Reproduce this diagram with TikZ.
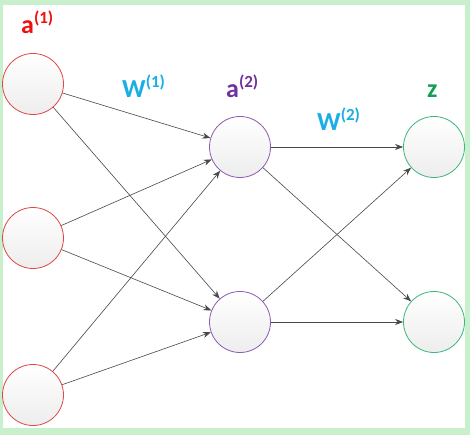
\documentclass[tikz,border=0pt]{standalone}
\usepackage{fontspec}
\setmainfont{Carlito}
\usetikzlibrary{arrows.meta}
\definecolor{frameg}{HTML}{C8F0CC}
\definecolor{inred}{HTML}{E04848}
\definecolor{hidpur}{HTML}{8E5BB8}
\definecolor{outgrn}{HTML}{3DB87A}
\definecolor{txtred}{HTML}{F01010}
\definecolor{txtblue}{HTML}{19AEE6}
\definecolor{txtpur}{HTML}{7030A0}
\definecolor{txtgrn}{HTML}{10A050}
\definecolor{edgec}{HTML}{484848}
\newcommand{\supsc}[1]{\raisebox{10pt}{\fontsize{17}{17}\selectfont(#1)}}
\tikzset{
  neuron/.style={circle, minimum size=61pt, inner sep=0pt, line width=0.8pt, top color=white, bottom color=black!7},
  inn/.style={neuron, draw=inred},
  hid/.style={neuron, draw=hidpur},
  outn/.style={neuron, draw=outgrn},
  conn/.style={draw=edgec, line width=0.6pt, -{Stealth[length=8pt,width=6pt]}},
  lbl/.style={font=\fontsize{26}{28}\selectfont\bfseries, inner sep=0pt}
}
\begin{document}
\begin{tikzpicture}[x=1pt,y=-1pt]
\fill[frameg] (0,0) rectangle (470,435);
\fill[white] (3,5) rectangle (465,428);
\useasboundingbox (0,0) rectangle (470,435);
\node[inn] (i1) at (33,84) {};
\node[inn] (i2) at (33,238) {};
\node[inn] (i3) at (33,395) {};
\node[hid] (h1) at (240,147) {};
\node[hid] (h2) at (240,322) {};
\node[outn] (o1) at (434,147) {};
\node[outn] (o2) at (434,322) {};
\foreach \a in {i1,i2,i3}{\foreach \b in {h1,h2}{\draw[conn] (\a) -- (\b);}}
\foreach \a in {h1,h2}{\foreach \b in {o1,o2}{\draw[conn] (\a) -- (\b);}}
\node[lbl, text=txtred, anchor=base west] (l1) at (21,34) {a\supsc{1}};
\node[lbl, text=txtblue, anchor=base west] (l2) at (122,98) {W\supsc{1}};
\node[lbl, text=txtpur, anchor=base west] (l3) at (226,98) {a\supsc{2}};
\node[lbl, text=txtblue, anchor=base west] (l4) at (317,131) {W\supsc{2}};
\node[lbl, text=txtgrn, anchor=base west] (l5) at (427,98) {z};
\end{tikzpicture}
\end{document}
